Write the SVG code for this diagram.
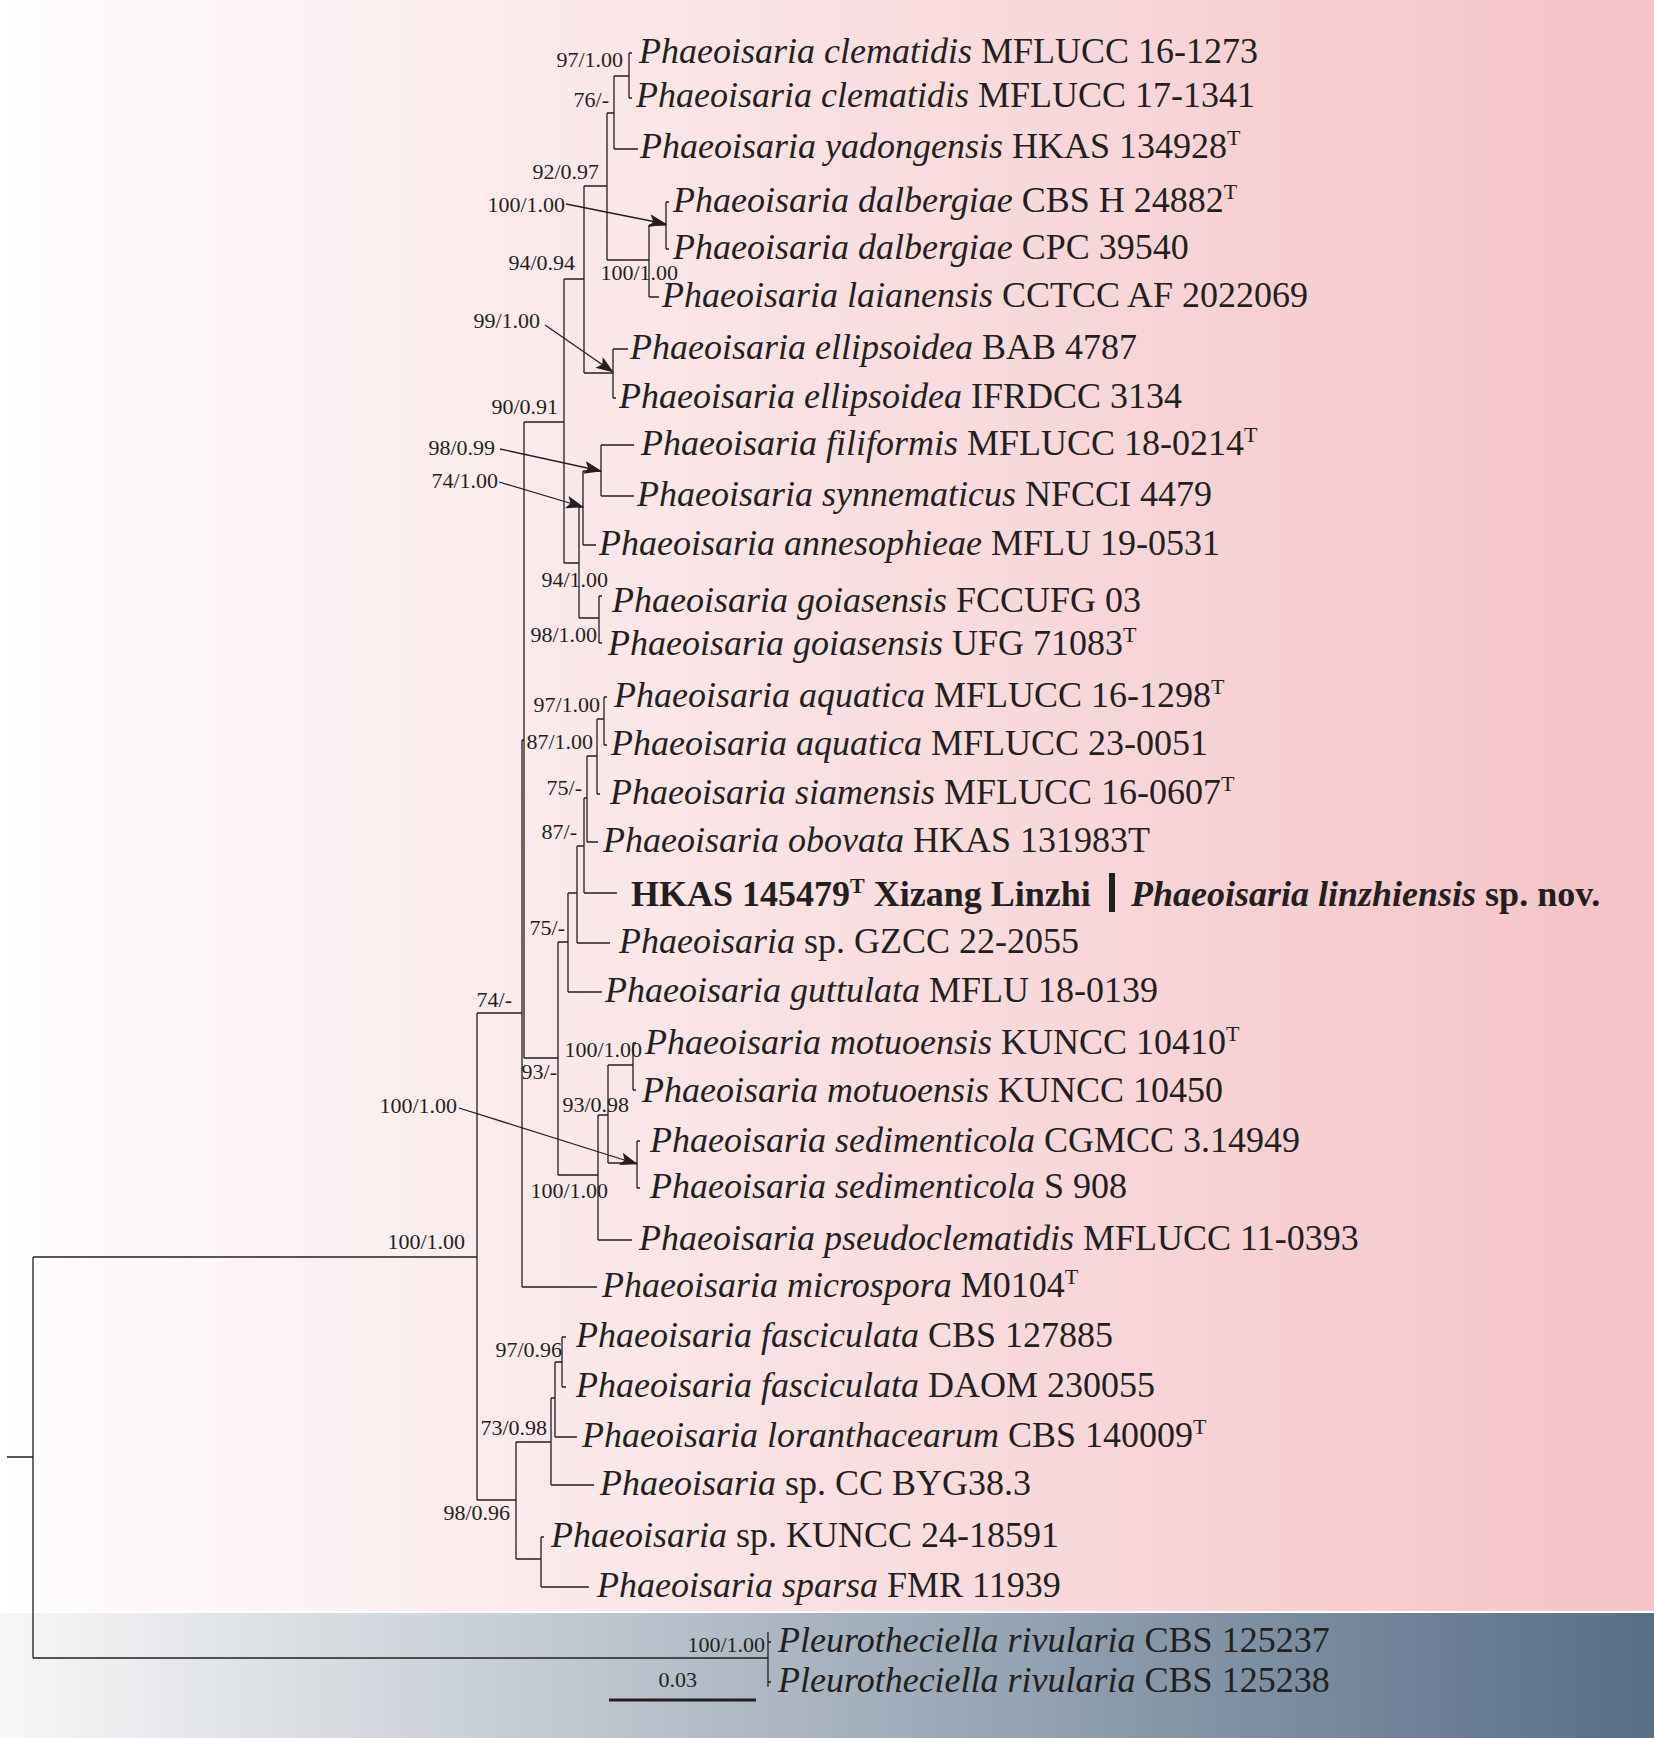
<svg xmlns="http://www.w3.org/2000/svg" width="1654" height="1738" viewBox="0 0 1654 1738">
<defs>
<linearGradient id="gPink" x1="0" y1="0" x2="1" y2="0">
<stop offset="0" stop-color="#ffffff"/>
<stop offset="0.03" stop-color="#fefbfb"/>
<stop offset="1" stop-color="#f3c3c7"/>
</linearGradient>
<linearGradient id="gSlate" x1="0" y1="0" x2="1" y2="0">
<stop offset="0" stop-color="#f7f7f8"/>
<stop offset="0.03" stop-color="#f2f3f4"/>
<stop offset="1" stop-color="#586e86"/>
</linearGradient>
<marker id="arr" markerUnits="userSpaceOnUse" markerWidth="20" markerHeight="14" refX="17" refY="6.5" orient="auto">
<path d="M0,0 L18,6.5 L0,13 L4,6.5 Z" fill="#231f20"/>
</marker>
<style>
.t{font-family:"Liberation Serif","Times New Roman",serif;font-size:36px;fill:#231f20}
.i{font-style:italic}
.b{font-weight:bold}
.s{font-family:"Liberation Serif","Times New Roman",serif;font-size:22px;fill:#231f20;text-anchor:end}
.br{stroke:#231f20;stroke-width:1.3;fill:none}
.ar{stroke:#231f20;stroke-width:1.3;fill:none;marker-end:url(#arr)}
</style>
</defs>
<rect x="0" y="0" width="1654" height="1738" fill="#ffffff"/>
<rect x="0" y="0" width="1654" height="1611" fill="url(#gPink)"/>
<rect x="0" y="1613" width="1654" height="125" fill="url(#gSlate)"/>

<g id="connectors">
<path class="br" d="M7,1457H33 M33,1257V1658 M33,1257H477 M33,1658H768 M768,1632V1687 M768,1642H771 M768,1682H771
M477,1013V1500 M477,1013H522 M477,1500H516
M522,740V1287 M522,740H524 M522,1287H597
M524,422V1058 M524,422H564 M524,1058H558
M564,279V563 M564,279H584 M564,563H579
M584,186V373 M584,186H607 M584,373H613
M607,113V260 M607,113H614 M607,260H649
M614,76V149 M614,76H629 M614,149H638
M629,53V98 M629,53H632 M629,98H632
M649,225V297 M649,225H666 M649,297H659
M666,202V249 M666,202H669 M666,249H669
M613,349V398 M613,349H628 M613,398H616
M579,507V618 M579,507H583 M579,618H599
M583,471V545 M583,471H601 M583,545H596
M601,445V496 M601,445H634 M601,496H634
M599,596V643 M599,596H602 M599,643H602
M558,942V1175 M558,942H568 M558,1175H598
M568,893V992 M568,893H577 M568,992H602
M577,846V943 M577,846H584 M577,943H610
M584,798V893 M584,798H587 M584,893H617
M587,756V842 M587,756H597 M587,842H598
M597,719V794 M597,719H604 M597,794H600
M604,697V745 M604,697H607 M604,745H607
M598,1115V1240 M598,1115H608 M598,1240H632
M608,1065V1163 M608,1065H633 M608,1163H637
M633,1043V1090 M633,1043H636 M633,1090H636
M637,1141V1188 M637,1141H640 M637,1188H640
M516,1442V1559 M516,1442H551 M516,1559H541
M551,1398V1485 M551,1398H555 M551,1485H594
M555,1362V1437 M555,1362H562 M555,1437H577
M562,1337V1387 M562,1337H566 M562,1387H566
M541,1537V1587 M541,1537H544 M541,1587H589"/>
<path class="ar" d="M566,204L666,224"/>
<path class="ar" d="M545,325L613,372"/>
<path class="ar" d="M500,449L601,471"/>
<path class="ar" d="M499,482L583,507"/>
<path class="ar" d="M459,1108L637,1164"/>
<line x1="609" y1="1700" x2="756" y2="1700" stroke="#231f20" stroke-width="3"/>
</g>

<g id="support">
<text class="s" x="623" y="67">97/1.00</text>
<text class="s" x="609" y="107">76/-</text>
<text class="s" x="599" y="179">92/0.97</text>
<text class="s" x="565" y="212">100/1.00</text>
<text class="s" x="575" y="270">94/0.94</text>
<text class="s" x="678" y="280">100/1.00</text>
<text class="s" x="540" y="328">99/1.00</text>
<text class="s" x="558" y="414">90/0.91</text>
<text class="s" x="495" y="455">98/0.99</text>
<text class="s" x="498" y="488">74/1.00</text>
<text class="s" x="608" y="587">94/1.00</text>
<text class="s" x="597" y="642">98/1.00</text>
<text class="s" x="600" y="712">97/1.00</text>
<text class="s" x="593" y="749">87/1.00</text>
<text class="s" x="582" y="795">75/-</text>
<text class="s" x="577" y="839">87/-</text>
<text class="s" x="565" y="935">75/-</text>
<text class="s" x="512" y="1007">74/-</text>
<text class="s" x="642" y="1057">100/1.00</text>
<text class="s" x="557" y="1079">93/-</text>
<text class="s" x="629" y="1112">93/0.98</text>
<text class="s" x="457" y="1113">100/1.00</text>
<text class="s" x="608" y="1198">100/1.00</text>
<text class="s" x="465" y="1249">100/1.00</text>
<text class="s" x="562" y="1357">97/0.96</text>
<text class="s" x="547" y="1435">73/0.98</text>
<text class="s" x="510" y="1520">98/0.96</text>
<text class="s" x="765" y="1652">100/1.00</text>
<text class="s" x="697" y="1687">0.03</text>
</g>

<g id="taxon-1"><text class="t" x="639" y="63"><tspan class="i">Phaeoisaria clematidis</tspan> MFLUCC 16-1273</text></g>
<g id="taxon-2"><text class="t" x="636" y="107"><tspan class="i">Phaeoisaria clematidis</tspan> MFLUCC 17-1341</text></g>
<g id="taxon-3"><text class="t" x="640" y="158"><tspan class="i">Phaeoisaria yadongensis</tspan> HKAS 134928<tspan font-size="22" dy="-13">T</tspan></text></g>
<g id="taxon-4"><text class="t" x="673" y="212"><tspan class="i">Phaeoisaria dalbergiae</tspan> CBS H 24882<tspan font-size="22" dy="-13">T</tspan></text></g>
<g id="taxon-5"><text class="t" x="673" y="259"><tspan class="i">Phaeoisaria dalbergiae</tspan> CPC 39540</text></g>
<g id="taxon-6"><text class="t" x="662" y="307"><tspan class="i">Phaeoisaria laianensis</tspan> CCTCC AF 2022069</text></g>
<g id="taxon-7"><text class="t" x="630" y="359"><tspan class="i">Phaeoisaria ellipsoidea</tspan> BAB 4787</text></g>
<g id="taxon-8"><text class="t" x="619" y="408"><tspan class="i">Phaeoisaria ellipsoidea</tspan> IFRDCC 3134</text></g>
<g id="taxon-9"><text class="t" x="641" y="455"><tspan class="i">Phaeoisaria filiformis</tspan> MFLUCC 18-0214<tspan font-size="22" dy="-13">T</tspan></text></g>
<g id="taxon-10"><text class="t" x="637" y="506"><tspan class="i">Phaeoisaria synnematicus</tspan> NFCCI 4479</text></g>
<g id="taxon-11"><text class="t" x="599" y="555"><tspan class="i">Phaeoisaria annesophieae</tspan> MFLU 19-0531</text></g>
<g id="taxon-12"><text class="t" x="612" y="612"><tspan class="i">Phaeoisaria goiasensis</tspan> FCCUFG 03</text></g>
<g id="taxon-13"><text class="t" x="608" y="655"><tspan class="i">Phaeoisaria goiasensis</tspan> UFG 71083<tspan font-size="22" dy="-13">T</tspan></text></g>
<g id="taxon-14"><text class="t" x="614" y="707"><tspan class="i">Phaeoisaria aquatica</tspan> MFLUCC 16-1298<tspan font-size="22" dy="-13">T</tspan></text></g>
<g id="taxon-15"><text class="t" x="611" y="755"><tspan class="i">Phaeoisaria aquatica</tspan> MFLUCC 23-0051</text></g>
<g id="taxon-16"><text class="t" x="610" y="804"><tspan class="i">Phaeoisaria siamensis</tspan> MFLUCC 16-0607<tspan font-size="22" dy="-13">T</tspan></text></g>
<g id="taxon-17"><text class="t" x="603" y="852"><tspan class="i">Phaeoisaria obovata</tspan> HKAS 131983T</text></g>
<g id="taxon-18">
<text class="t b" x="631" y="906">HKAS 145479<tspan font-size="22" dy="-13">T</tspan><tspan dy="13"> Xizang Linzhi</tspan></text>
<rect x="1109" y="873" width="6" height="39" fill="#231f20"/>
<text class="t b" x="1131" y="906"><tspan class="i">Phaeoisaria linzhiensis</tspan> sp. nov.</text>
</g>
<g id="taxon-19"><text class="t" x="619" y="953"><tspan class="i">Phaeoisaria</tspan> sp. GZCC 22-2055</text></g>
<g id="taxon-20"><text class="t" x="605" y="1002"><tspan class="i">Phaeoisaria guttulata</tspan> MFLU 18-0139</text></g>
<g id="taxon-21"><text class="t" x="645" y="1054"><tspan class="i">Phaeoisaria motuoensis</tspan> KUNCC 10410<tspan font-size="22" dy="-13">T</tspan></text></g>
<g id="taxon-22"><text class="t" x="642" y="1102"><tspan class="i">Phaeoisaria motuoensis</tspan> KUNCC 10450</text></g>
<g id="taxon-23"><text class="t" x="650" y="1152"><tspan class="i">Phaeoisaria sedimenticola</tspan> CGMCC 3.14949</text></g>
<g id="taxon-24"><text class="t" x="650" y="1198"><tspan class="i">Phaeoisaria sedimenticola</tspan> S 908</text></g>
<g id="taxon-25"><text class="t" x="639" y="1250"><tspan class="i">Phaeoisaria pseudoclematidis</tspan> MFLUCC 11-0393</text></g>
<g id="taxon-26"><text class="t" x="602" y="1297"><tspan class="i">Phaeoisaria microspora</tspan> M0104<tspan font-size="22" dy="-13">T</tspan></text></g>
<g id="taxon-27"><text class="t" x="576" y="1347"><tspan class="i">Phaeoisaria fasciculata</tspan> CBS 127885</text></g>
<g id="taxon-28"><text class="t" x="576" y="1397"><tspan class="i">Phaeoisaria fasciculata</tspan> DAOM 230055</text></g>
<g id="taxon-29"><text class="t" x="582" y="1447"><tspan class="i">Phaeoisaria loranthacearum</tspan> CBS 140009<tspan font-size="22" dy="-13">T</tspan></text></g>
<g id="taxon-30"><text class="t" x="600" y="1495"><tspan class="i">Phaeoisaria</tspan> sp. CC BYG38.3</text></g>
<g id="taxon-31"><text class="t" x="551" y="1547"><tspan class="i">Phaeoisaria</tspan> sp. KUNCC 24-18591</text></g>
<g id="taxon-32"><text class="t" x="597" y="1597"><tspan class="i">Phaeoisaria sparsa</tspan> FMR 11939</text></g>
<g id="taxon-33"><text class="t" x="778" y="1652"><tspan class="i">Pleurotheciella rivularia</tspan> CBS 125237</text></g>
<g id="taxon-34"><text class="t" x="778" y="1692"><tspan class="i">Pleurotheciella rivularia</tspan> CBS 125238</text></g>
</svg>
